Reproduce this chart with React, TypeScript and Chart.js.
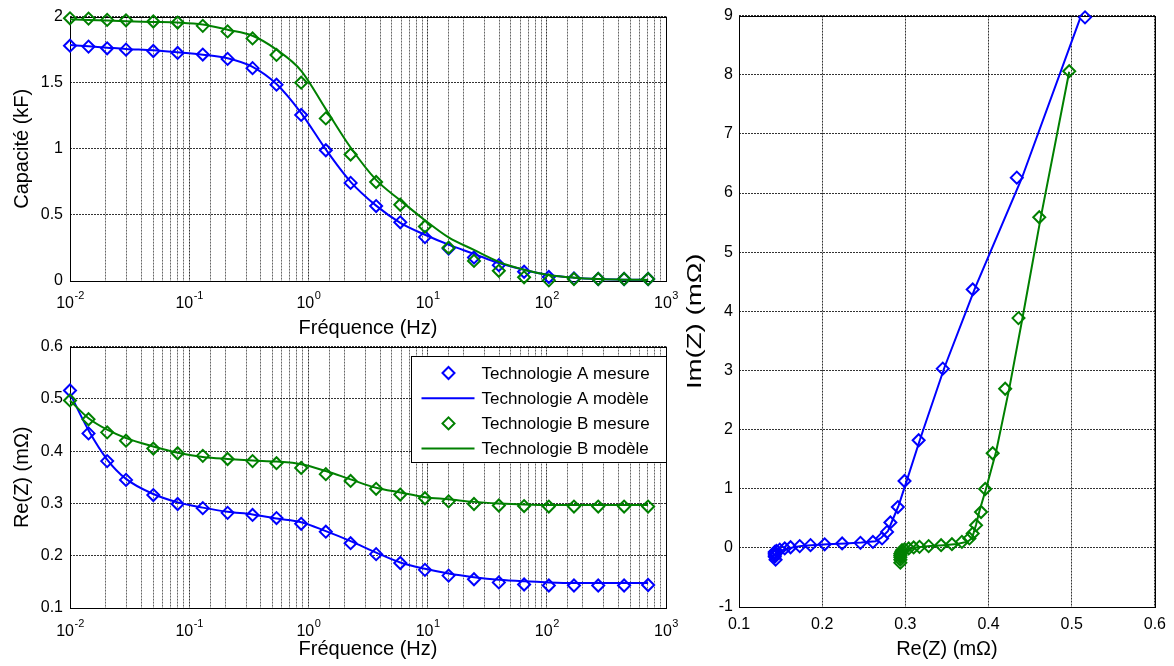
import React, { useEffect, useRef } from 'react';
import { Chart, registerables } from 'chart.js';

Chart.register(...registerables);

const FONT = "'Liberation Sans', Arial, Helvetica, sans-serif";
const BLUE = '#0000ff';
const GREEN = '#008000';

// ---- data ----
const freqHz = [0.01, 0.0143, 0.0205, 0.0295, 0.05, 0.08, 0.13, 0.21, 0.34, 0.54, 0.87, 1.4, 2.26, 3.7, 5.9, 9.5, 15, 24.5, 39.6, 64.5, 104, 169, 270, 445, 708];

const capA_mesure = [1.78, 1.773, 1.76, 1.75, 1.74, 1.725, 1.713, 1.68, 1.61, 1.485, 1.256, 0.989, 0.742, 0.567, 0.444, 0.332, 0.245, 0.178, 0.12, 0.07, 0.03, 0.02, 0.015, 0.015, 0.015];
const capA_modele = [1.785, 1.775, 1.765, 1.755, 1.745, 1.73, 1.712, 1.685, 1.62, 1.49, 1.27, 0.995, 0.75, 0.57, 0.44, 0.35, 0.275, 0.205, 0.135, 0.085, 0.045, 0.025, 0.015, 0.01, 0.008];
const capB_mesure = [1.987, 1.985, 1.975, 1.972, 1.963, 1.955, 1.93, 1.888, 1.835, 1.71, 1.5, 1.23, 0.957, 0.749, 0.577, 0.412, 0.252, 0.152, 0.077, 0.028, 0.005, 0.015, 0.015, 0.015, 0.015];
const capB_modele = [1.98, 1.975, 1.97, 1.965, 1.96, 1.955, 1.94, 1.9, 1.855, 1.75, 1.59, 1.3, 1.01, 0.765, 0.61, 0.46, 0.33, 0.235, 0.145, 0.085, 0.045, 0.025, 0.015, 0.01, 0.008];

const reA_mesure = [0.516, 0.434, 0.381, 0.345, 0.316, 0.299, 0.291, 0.282, 0.278, 0.272, 0.261, 0.246, 0.224, 0.203, 0.186, 0.173, 0.162, 0.155, 0.149, 0.145, 0.143, 0.143, 0.143, 0.143, 0.144];
const reA_modele = [0.51, 0.44, 0.384, 0.347, 0.318, 0.302, 0.292, 0.284, 0.279, 0.271, 0.264, 0.247, 0.228, 0.206, 0.187, 0.175, 0.166, 0.159, 0.154, 0.151, 0.149, 0.148, 0.148, 0.148, 0.148];
const reB_mesure = [0.497, 0.461, 0.436, 0.42, 0.405, 0.396, 0.391, 0.385, 0.381, 0.377, 0.368, 0.356, 0.343, 0.328, 0.317, 0.31, 0.304, 0.299, 0.296, 0.295, 0.294, 0.294, 0.294, 0.294, 0.294];
const reB_modele = [0.497, 0.463, 0.441, 0.425, 0.409, 0.397, 0.389, 0.385, 0.382, 0.38, 0.375, 0.362, 0.346, 0.33, 0.321, 0.312, 0.308, 0.303, 0.3, 0.298, 0.297, 0.297, 0.297, 0.297, 0.297];

const imA_mesure = [8.97, 6.26, 4.37, 3.03, 1.82, 1.13, 0.69, 0.43, 0.27, 0.16, 0.1, 0.085, 0.075, 0.06, 0.046, 0.03, 0.01, -0.01, -0.03, -0.05, -0.07, -0.09, -0.12, -0.15, -0.2];
const imA_modele = [8.95, 6.25, 4.4, 3.05, 1.85, 1.15, 0.72, 0.45, 0.28, 0.17, 0.11, 0.09, 0.075, 0.06, 0.045, 0.03, 0.01, -0.01, -0.03, -0.05, -0.07, -0.09, -0.12, -0.15, -0.2];
const imB_mesure = [8.06, 5.59, 3.885, 2.69, 1.6, 0.995, 0.607, 0.383, 0.243, 0.16, 0.101, 0.062, 0.045, 0.029, 0.017, 0.007, -0.01, -0.026, -0.04, -0.07, -0.1, -0.13, -0.16, -0.2, -0.25];
const imB_modele = [8.05, 5.6, 3.9, 2.7, 1.62, 1.0, 0.62, 0.39, 0.25, 0.165, 0.105, 0.065, 0.045, 0.03, 0.017, 0.007, -0.01, -0.026, -0.04, -0.07, -0.1, -0.13, -0.16, -0.2, -0.25];

const seriesNames = ['Technologie A mesure', 'Technologie A modèle', 'Technologie B mesure', 'Technologie B modèle'];
const decadeExponents = [-2, -1, 0, 1, 2, 3];

// ---- helpers ----
const pts = (xs: number[], ys: number[]) => xs.map((x, i) => ({ x, y: ys[i] }));

const mesureStyle = (color: string, order: number) => ({
  showLine: false,
  borderColor: color,
  backgroundColor: 'rgba(0,0,0,0)',
  pointStyle: 'rectRot',
  pointRadius: 6,
  pointHoverRadius: 6,
  pointBorderWidth: 2,
  pointBackgroundColor: 'rgba(0,0,0,0)',
  pointBorderColor: color,
  clip: false,
  order,
});

const modeleStyle = (color: string, order: number, smooth: boolean) => ({
  showLine: true,
  borderColor: color,
  backgroundColor: color,
  borderWidth: 2,
  pointRadius: 0,
  pointHoverRadius: 0,
  cubicInterpolationMode: smooth ? 'monotone' : 'default',
  tension: 0,
  clip: false,
  order,
});

const titleFont = { family: FONT, size: 20 };
const tickFont = { family: FONT, size: 16 };
const GRID_DASH = [2, 1];
const GRID_MAJOR = 'rgba(0,0,0,0.8)';
const GRID_MINOR = 'rgba(0,0,0,0.6)';

const majorMinorGrid = (ctx: any) => (ctx.tick && ctx.tick.major ? GRID_MAJOR : GRID_MINOR);

const boxPlugin = {
  id: 'matBox',
  beforeDatasetsDraw(chart: any) {
    const { ctx, chartArea: a } = chart;
    ctx.save();
    ctx.strokeStyle = '#000';
    ctx.lineWidth = 1;
    ctx.strokeRect(Math.round(a.left) + 0.5, Math.round(a.top) + 0.5, Math.round(a.right - a.left), Math.round(a.bottom - a.top));
    ctx.restore();
  },
};

const logLabelPlugin = (offset: number) => ({
  id: 'logLabels',
  afterDraw(chart: any) {
    const scale = chart.scales.x;
    const ctx = chart.ctx;
    const yb = chart.chartArea.bottom + offset;
    ctx.save();
    ctx.fillStyle = '#000';
    ctx.textBaseline = 'alphabetic';
    ctx.textAlign = 'left';
    for (const e of decadeExponents) {
      const x = scale.getPixelForValue(Math.pow(10, e));
      const base = '10';
      const sup = e < 0 ? '-' + Math.abs(e) : String(e);
      ctx.font = `16px ${FONT}`;
      const w1 = ctx.measureText(base).width;
      ctx.font = `11px ${FONT}`;
      const w2 = ctx.measureText(sup).width;
      const x0 = x - (w1 + w2) / 2;
      ctx.font = `16px ${FONT}`;
      ctx.fillText(base, x0, yb);
      ctx.font = `11px ${FONT}`;
      ctx.fillText(sup, x0 + w1 + 0.5, yb - 9);
    }
    ctx.restore();
  },
});

// stretched vertical title, as in the reference figure
const imTitlePlugin = {
  id: 'imTitle',
  afterDraw(chart: any) {
    const { ctx, chartArea: a } = chart;
    ctx.save();
    ctx.translate(a.left - 43.5, (a.top + a.bottom) / 2 + 10);
    ctx.rotate(-Math.PI / 2);
    ctx.scale(1.38, 1);
    ctx.font = `20px ${FONT}`;
    ctx.fillStyle = '#000';
    ctx.textAlign = 'center';
    ctx.textBaseline = 'middle';
    ctx.fillText('Im(Z) (mΩ)', 0, 0);
    ctx.restore();
  },
};

const legendPlugin = {
  id: 'matLegend',
  afterDraw(chart: any) {
    const { ctx, chartArea: a } = chart;
    const w = 255;
    const h = 106;
    const L = Math.round(a.right - w) + 0.5;
    const T = Math.round(a.top + 9) + 0.5;
    ctx.save();
    ctx.fillStyle = '#fff';
    ctx.fillRect(L, T, w, h);
    ctx.strokeStyle = '#000';
    ctx.lineWidth = 1;
    ctx.strokeRect(L, T, w, h);
    const ds = chart.data.datasets;
    for (let i = 0; i < ds.length; i++) {
      const d = ds[i];
      const cy = T + 16.5 + i * 25.2;
      const color = d.borderColor;
      ctx.strokeStyle = color;
      ctx.lineWidth = 2;
      if (d.showLine === false) {
        const cx = L + 37;
        const r = 6;
        ctx.beginPath();
        ctx.moveTo(cx - r, cy);
        ctx.lineTo(cx, cy - r);
        ctx.lineTo(cx + r, cy);
        ctx.lineTo(cx, cy + r);
        ctx.closePath();
        ctx.stroke();
      } else {
        ctx.beginPath();
        ctx.moveTo(L + 10, cy);
        ctx.lineTo(L + 63, cy);
        ctx.stroke();
      }
      ctx.fillStyle = '#000';
      ctx.font = `17px ${FONT}`;
      ctx.textBaseline = 'middle';
      ctx.textAlign = 'left';
      ctx.fillText(d.label, L + 70, cy + 1);
    }
    ctx.restore();
  },
};

function freqDatasets(a_mes: number[], a_mod: number[], b_mes: number[], b_mod: number[]) {
  return [
    { label: seriesNames[0], data: pts(freqHz, a_mes), ...mesureStyle(BLUE, 4) },
    { label: seriesNames[1], data: pts(freqHz, a_mod), ...modeleStyle(BLUE, 3, true) },
    { label: seriesNames[2], data: pts(freqHz, b_mes), ...mesureStyle(GREEN, 2) },
    { label: seriesNames[3], data: pts(freqHz, b_mod), ...modeleStyle(GREEN, 1, true) },
  ];
}

function freqConfig(opts: {
  datasets: any[];
  yMin: number;
  yMax: number;
  yStep: number;
  yTitle: string;
  pad: any;
  xHeight: number;
  xTitlePadBottom: number;
  plugins: any[];
}): any {
  return {
    type: 'line',
    data: { datasets: opts.datasets },
    options: {
      responsive: false,
      animation: false,
      events: [],
      layout: { padding: opts.pad },
      plugins: { legend: { display: false }, tooltip: { enabled: false } },
      scales: {
        x: {
          type: 'logarithmic',
          min: 0.01,
          max: 1000,
          afterFit: (s: any) => {
            s.height = opts.xHeight;
          },
          ticks: { display: false, autoSkip: false },
          grid: { color: majorMinorGrid, lineWidth: 1, drawTicks: false },
          border: { display: false, dash: GRID_DASH },
          title: { display: true, text: 'Fréquence (Hz)', color: '#000', font: titleFont, padding: { top: 0, bottom: opts.xTitlePadBottom } },
        },
        y: {
          type: 'linear',
          min: opts.yMin,
          max: opts.yMax,
          afterFit: (s: any) => {
            s.width = 70;
          },
          ticks: {
            stepSize: opts.yStep,
            color: '#000',
            font: tickFont,
            padding: 7,
            callback: (v: any) => String(parseFloat(Number(v).toFixed(1))),
          },
          grid: { color: GRID_MAJOR, lineWidth: 1, drawTicks: false },
          border: { display: false, dash: GRID_DASH },
          title: { display: true, text: opts.yTitle, color: '#000', font: titleFont, padding: { top: 10, bottom: 0 } },
        },
      },
    },
    plugins: opts.plugins,
  };
}

function makeCapChart(): any {
  return freqConfig({
    datasets: freqDatasets(capA_mesure, capA_modele, capB_mesure, capB_modele),
    yMin: 0,
    yMax: 2,
    yStep: 0.5,
    yTitle: 'Capacité (kF)',
    pad: { left: 0, right: 24, top: 14, bottom: 0 },
    xHeight: 59,
    xTitlePadBottom: 0,
    plugins: [boxPlugin, logLabelPlugin(27)],
  });
}

function makeReChart(): any {
  return freqConfig({
    datasets: freqDatasets(reA_mesure, reA_modele, reB_mesure, reB_modele),
    yMin: 0.1,
    yMax: 0.6,
    yStep: 0.1,
    yTitle: 'Re(Z) (mΩ)',
    pad: { left: 0, right: 24, top: 12, bottom: 0 },
    xHeight: 58,
    xTitlePadBottom: 5,
    plugins: [boxPlugin, logLabelPlugin(28), legendPlugin],
  });
}

function makeNyquistChart(): any {
  return {
    type: 'scatter',
    data: {
      datasets: [
        { label: seriesNames[0], data: pts(reA_mesure, imA_mesure), ...mesureStyle(BLUE, 4) },
        { label: seriesNames[1], data: pts(reA_modele, imA_modele), ...modeleStyle(BLUE, 3, false) },
        { label: seriesNames[2], data: pts(reB_mesure, imB_mesure), ...mesureStyle(GREEN, 2) },
        { label: seriesNames[3], data: pts(reB_modele, imB_modele), ...modeleStyle(GREEN, 1, false) },
      ],
    },
    options: {
      responsive: false,
      animation: false,
      events: [],
      layout: { padding: { left: 0, right: 17, top: 14, bottom: 0 } },
      plugins: { legend: { display: false }, tooltip: { enabled: false } },
      scales: {
        x: {
          type: 'linear',
          min: 0.1,
          max: 0.6,
          afterFit: (s: any) => {
            s.height = 59;
          },
          ticks: {
            stepSize: 0.1,
            color: '#000',
            font: tickFont,
            padding: 8,
            callback: (v: any) => String(parseFloat(Number(v).toFixed(1))),
          },
          grid: { color: GRID_MAJOR, lineWidth: 1, drawTicks: false },
          border: { display: false, dash: GRID_DASH },
          title: { display: true, text: 'Re(Z) (mΩ)', color: '#000', font: titleFont, padding: { top: 0, bottom: 5 } },
        },
        y: {
          type: 'linear',
          min: -1,
          max: 9,
          afterFit: (s: any) => {
            s.width = 59;
          },
          ticks: {
            stepSize: 1,
            color: '#000',
            font: tickFont,
            padding: 6,
            callback: (v: any) => String(Math.round(Number(v))),
          },
          grid: { color: GRID_MAJOR, lineWidth: 1, drawTicks: false },
          border: { display: false, dash: GRID_DASH },
          title: { display: false, text: 'Im(Z) (mΩ)' },
        },
      },
    },
    plugins: [boxPlugin, imTitlePlugin],
  };
}

function ChartBox(props: { left: number; top: number; width: number; height: number; make: () => any }) {
  const ref = useRef<HTMLCanvasElement>(null);
  useEffect(() => {
    const chart = new Chart(ref.current as HTMLCanvasElement, props.make());
    return () => chart.destroy();
  }, []);
  const { left, top, width, height } = props;
  return (
    <div style={{ position: 'absolute', left, top, width, height }}>
      <canvas ref={ref} width={width} height={height} style={{ width, height, display: 'block' }} />
    </div>
  );
}

export default function App() {
  return (
    <div style={{ position: 'fixed', left: 0, top: 0, width: 1174, height: 666, background: '#fff', overflow: 'hidden' }}>
      <ChartBox left={0} top={0} width={690} height={340} make={makeCapChart} />
      <ChartBox left={0} top={330} width={690} height={336} make={makeReChart} />
      <ChartBox left={680} top={0} width={494} height={666} make={makeNyquistChart} />
    </div>
  );
}
